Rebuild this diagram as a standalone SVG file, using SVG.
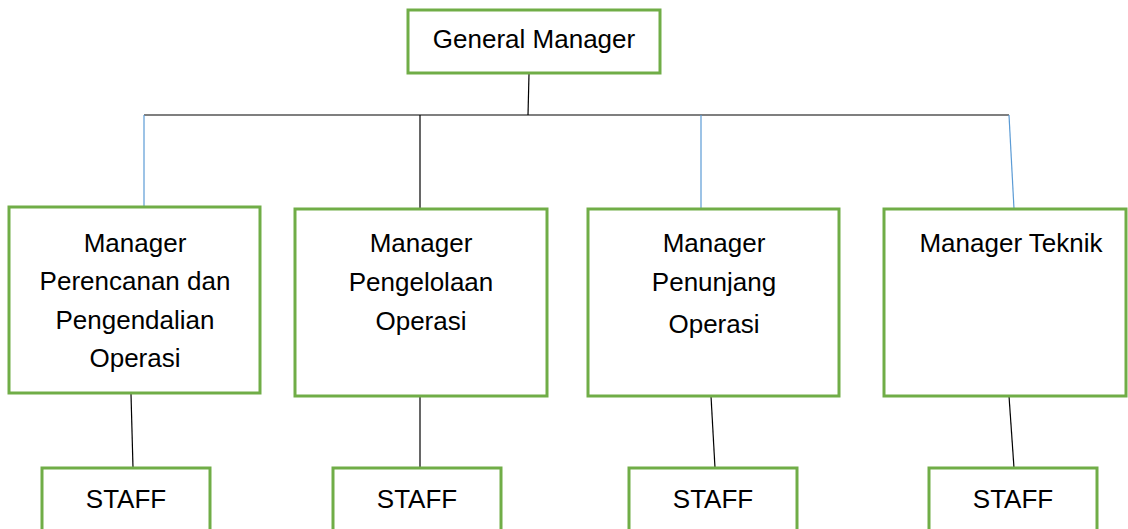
<svg xmlns="http://www.w3.org/2000/svg" width="1128" height="529" viewBox="0 0 1128 529">
<style>
.box{fill:#fff;stroke:#70AD47;stroke-width:3}
.t{font-family:"Liberation Sans",Arial,sans-serif;font-size:26px;fill:#000;text-anchor:middle}
.k{stroke:#000;stroke-width:1.2;fill:none}
.b{stroke:#5B9BD5;stroke-width:1.2;fill:none}
</style>
<rect width="1128" height="529" fill="#fff"/>
<g id="connectors">
<line class="k" x1="529" y1="74" x2="528" y2="115"/>
<line class="k" x1="144" y1="115" x2="1009" y2="115"/>
<line class="b" x1="144" y1="115" x2="144" y2="207"/>
<line class="k" x1="420" y1="115" x2="420" y2="209"/>
<line class="b" x1="701" y1="115" x2="701" y2="209"/>
<line class="b" x1="1009" y1="115" x2="1014" y2="209"/>
<line class="k" x1="131" y1="394" x2="133" y2="468"/>
<line class="k" x1="420" y1="396" x2="420" y2="468"/>
<line class="k" x1="711" y1="396" x2="715" y2="468"/>
<line class="k" x1="1009" y1="396" x2="1014" y2="468"/>
</g>
<g id="gm">
<rect class="box" x="408" y="10" width="252" height="63"/>
<text class="t" x="534" y="48">General Manager</text>
</g>
<g id="m1">
<rect class="box" x="9" y="207" width="251" height="186"/>
<text class="t" x="135" y="252">Manager</text>
<text class="t" x="135" y="290">Perencanan dan</text>
<text class="t" x="135" y="329">Pengendalian</text>
<text class="t" x="135" y="367">Operasi</text>
</g>
<g id="m2">
<rect class="box" x="295" y="209" width="252" height="187"/>
<text class="t" x="421" y="252">Manager</text>
<text class="t" x="421" y="291">Pengelolaan</text>
<text class="t" x="421" y="330">Operasi</text>
</g>
<g id="m3">
<rect class="box" x="588" y="209" width="251" height="187"/>
<text class="t" x="714" y="252">Manager</text>
<text class="t" x="714" y="291">Penunjang</text>
<text class="t" x="714" y="333">Operasi</text>
</g>
<g id="m4">
<rect class="box" x="884" y="209" width="242" height="187"/>
<text class="t" x="1011" y="252">Manager Teknik</text>
</g>
<g id="s1">
<rect class="box" x="42" y="468" width="168" height="80"/>
<text class="t" x="126" y="508">STAFF</text>
</g>
<g id="s2">
<rect class="box" x="333" y="468" width="168" height="80"/>
<text class="t" x="417" y="508">STAFF</text>
</g>
<g id="s3">
<rect class="box" x="629" y="468" width="168" height="80"/>
<text class="t" x="713" y="508">STAFF</text>
</g>
<g id="s4">
<rect class="box" x="929" y="468" width="168" height="80"/>
<text class="t" x="1013" y="508">STAFF</text>
</g>
</svg>
